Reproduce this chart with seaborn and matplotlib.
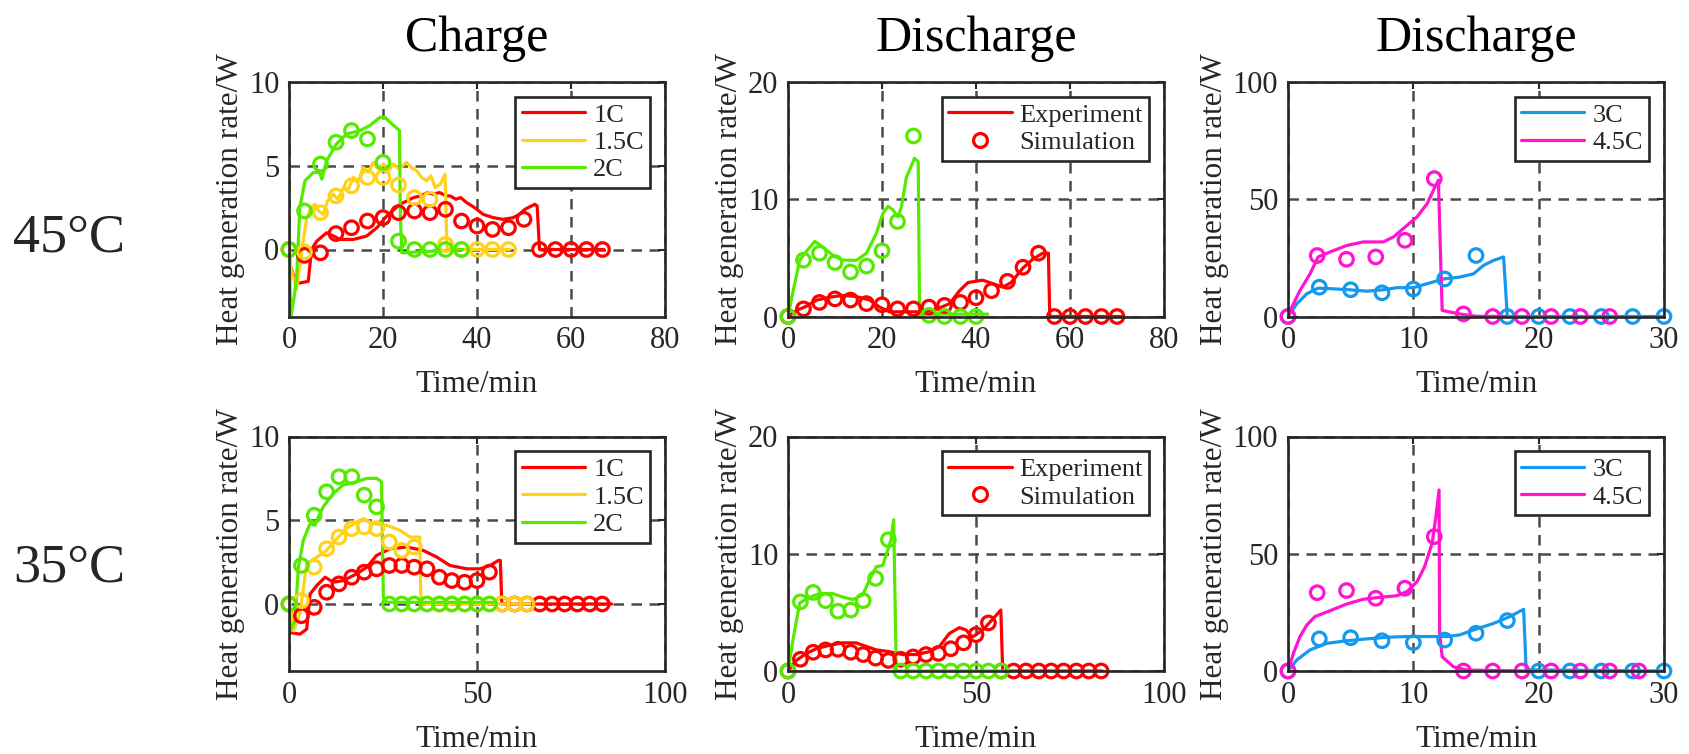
import matplotlib
matplotlib.use("Agg")
import matplotlib.pyplot as plt
from matplotlib.lines import Line2D
import seaborn as sns

# ---------------- colours ----------------
RED = "#FF0000"
YELLOW = "#FFD21A"
GREEN = "#55EA00"
BLUE = "#1499EE"
MAGENTA = "#FF14D0"

# ---------------- 45 °C, charge ----------------
c45_1C_t = [0.3, 1.5, 2.3, 4.1, 4.5, 4.8, 5.9, 8.0, 9.5, 10.9, 13.7, 16.5, 18.7, 20.8, 23.6, 26.5, 28.0,
            29.5, 30.7, 32.0, 33.5, 34.3, 35.5, 36.5, 37.8, 39.5, 41.3, 43.5, 45.5, 47.7, 49.0, 50.2,
            52.3, 52.8, 53.3, 67.0]
c45_1C_q = [-1.0, -2.0, -2.0, -1.9, -0.8, 0.0, 0.5, 1.0, 0.8, 0.6, 0.6, 0.8, 1.3, 2.0, 2.7, 3.1, 3.2,
            3.4, 3.3, 3.4, 3.2, 3.2, 3.0, 3.1, 2.8, 2.5, 2.1, 1.9, 1.8, 1.9, 2.1, 2.4,
            2.7, 2.6, 0.0, 0.0]
c45_1C_sim_t = [0, 3.3, 6.7, 10, 13.3, 16.7, 20, 23.3, 26.7, 30, 33.3, 36.7, 40, 43.3, 46.7, 50, 53.3,
                56.7, 60, 63.3, 66.7]
c45_1C_sim_q = [0, -0.35, -0.2, 0.95, 1.3, 1.7, 1.9, 2.2, 2.3, 2.2, 2.4, 1.7, 1.4, 1.2, 1.3, 1.8, 0,
                0, 0, 0, 0]

c45_15C_t = [0, 0.3, 1.6, 2.3, 3.0, 3.8, 4.5, 5.5, 6.3, 7.3, 8.2, 9.4, 10.4, 11.6, 12.5, 13.7, 14.8,
             15.8, 16.9, 17.9, 19.0, 20.1, 21.2, 22.2, 23.4, 25.0, 26.0, 27.2, 28.2, 29.3, 30.2, 31.1,
             32.2, 33.2, 33.6, 34.0, 47.0]
c45_15C_q = [1.3, -1.0, -2.4, -1.0, 0.5, 1.9, 2.4, 2.7, 2.3, 2.1, 2.9, 3.3, 3.0, 3.7, 3.5, 4.3, 4.1,
             4.9, 4.6, 5.2, 4.8, 5.1, 4.7, 5.1, 4.8, 5.2, 4.9, 4.7, 4.3, 4.1, 4.4, 3.7,
             3.9, 4.5, 0.2, 0.0, 0.0]
c45_15C_sim_t = [0, 3.3, 6.7, 10, 13.3, 16.7, 20, 23.3, 26.7, 30, 33.3, 36.7, 40, 43.3, 46.7]
c45_15C_sim_q = [0, -0.15, 2.2, 3.2, 3.8, 4.3, 4.3, 3.85, 3.1, 3.0, 0.3, 0, 0, 0, 0]

c45_2C_t = [0, 0.4, 1.0, 1.6, 2.3, 3.4, 5.2, 6.5, 7.0, 8.0, 10.1, 12.3, 15.1, 17.2, 19.4, 20.4, 21.5,
            23.5, 23.7, 24.0, 37.0]
c45_2C_q = [0, -4.0, -3.0, -1.8, 2.5, 4.1, 4.6, 4.6, 4.2, 5.3, 6.3, 6.9, 7.1, 7.4, 7.9, 7.9, 7.6,
            7.1, 2.0, -0.2, 0.0]
c45_2C_sim_t = [0, 3.3, 6.7, 10, 13.3, 16.7, 20, 23.3, 26.7, 30, 33.3, 36.7]
c45_2C_sim_q = [0, 2.3, 5.1, 6.4, 7.1, 6.6, 5.2, 0.5, 0, 0, 0, 0]

# ---------------- 45 °C, discharge ----------------
d45_1C_t = [0, 1.8, 4.0, 6.1, 8.9, 11.7, 14.6, 17.4, 19.5, 21.6, 24.5, 28.0, 31.5, 34.4, 36.5, 38.3,
            41.4, 43.6, 45.7, 47.5, 49.9, 52.1, 54.2, 55.4, 55.7, 71.0]
d45_1C_q = [0, 0.5, 0.9, 1.4, 1.65, 1.8, 1.7, 1.4, 0.8, 0.4, 0.4, 0.4, 0.6, 1.1, 2.2, 2.9,
            3.1, 2.8, 2.5, 2.9, 4.1, 4.9, 5.4, 5.4, 0.0, 0.0]
d45_1C_sim_t = [0, 3.3, 6.7, 10, 13.3, 16.7, 20, 23.3, 26.7, 30, 33.3, 36.7, 40, 43.3, 46.7, 50, 53.3,
                56.7, 60, 63.3, 66.7, 70]
d45_1C_sim_q = [0, 0.65, 1.2, 1.5, 1.4, 1.1, 1.0, 0.65, 0.65, 0.8, 0.95, 1.2, 1.6, 2.2, 3.0, 4.2, 5.4,
                0, 0, 0, 0, 0]

d45_2C_t = [0, 1.1, 2.5, 4.0, 5.7, 7.5, 9.6, 11.7, 14.6, 16.7, 18.8, 20.2, 21.3, 22.3, 23.4, 24.1,
            25.2, 26.2, 26.9, 27.7, 28.0, 42.5]
d45_2C_q = [0, 2.2, 4.8, 5.6, 6.4, 5.9, 5.2, 4.8, 4.8, 5.4, 7.1, 8.8, 9.4, 9.1, 8.5, 9.3,
            11.9, 12.8, 13.5, 13.2, 0.2, 0.2]
d45_2C_sim_t = [0, 3.3, 6.7, 10, 13.3, 16.7, 20, 23.3, 26.7, 30, 33.3, 36.7, 40]
d45_2C_sim_q = [0, 4.8, 5.4, 4.6, 3.8, 4.3, 5.6, 8.1, 15.4, 0.1, 0, 0, 0]

# ---------------- 45 °C, high-rate discharge ----------------
h45_3C_t = [0, 0.7, 1.5, 2.4, 3.6, 4.9, 6.3, 7.6, 8.7, 10.0, 11.1, 12.5, 13.7, 14.8, 15.6, 16.4,
            17.2, 17.5, 30.0]
h45_3C_q = [0, 5.4, 9.7, 12.1, 11.8, 11.4, 10.8, 11.4, 12.3, 12.3, 14.0, 16.1, 16.8, 18.2, 21.8, 23.9,
            25.4, 0.0, 0.0]
h45_3C_sim_t = [0, 2.5, 5, 7.5, 10, 12.5, 15, 17.5, 20, 22.5, 25, 27.5, 30]
h45_3C_sim_q = [0, 12.5, 11.4, 10.1, 11.7, 16.0, 26.0, 0, 0, 0, 0, 0, 0]

h45_45C_t = [0, 0.43, 0.96, 1.76, 2.4, 3.35, 4.7, 6.0, 7.6, 8.4, 9.2, 10.3, 11.1, 11.6, 12.0, 12.3,
             13.7, 15.0, 17.4]
h45_45C_q = [0, 5.4, 11.1, 18.2, 25.4, 27.5, 30.3, 31.8, 31.8, 33.9, 37.5, 42.5, 48.1, 53.8, 58.1, 2.6,
             1.1, 0.1, 0.0]
h45_45C_sim_t = [0, 2.33, 4.67, 7.0, 9.33, 11.67, 14.0, 16.33, 18.67, 21.0, 23.33, 25.67]
h45_45C_sim_q = [0, 26.0, 24.4, 25.4, 32.5, 58.8, 1.1, 0, 0, 0, 0, 0]

# ---------------- 35 °C, charge ----------------
c35_1C_t = [0.3, 2.9, 4.7, 5.6, 7.4, 9.6, 11.8, 14.5, 18.0, 20.7, 23.3, 26.9, 31.3, 35.7, 39.3, 42.8,
            47.3, 50.8, 53.5, 55.7, 56.2, 56.6, 85.8]
c35_1C_q = [-1.7, -1.8, -1.5, 0.6, 1.1, 1.6, 1.3, 1.4, 1.8, 2.2, 2.9, 3.3, 3.4, 3.2, 2.8, 2.3,
            2.1, 2.1, 2.3, 2.6, 2.6, 0.0, 0.0]
c35_1C_sim_t = [0, 3.3, 6.7, 10, 13.3, 16.7, 20, 23.3, 26.7, 30, 33.3, 36.7, 40, 43.3, 46.7, 50, 53.3,
                56.7, 60, 63.3, 66.7, 70, 73.3, 76.7, 80, 83.3]
c35_1C_sim_q = [0, -0.7, -0.2, 0.7, 1.2, 1.6, 1.9, 2.1, 2.3, 2.3, 2.2, 2.1, 1.6, 1.4, 1.3, 1.4, 1.9,
                0, 0, 0, 0, 0, 0, 0, 0, 0]

c35_15C_t = [0, 1.2, 2.9, 4.7, 7.4, 10.0, 12.7, 15.3, 18.0, 19.8, 22.4, 26.0, 29.5, 32.2, 34.8, 35.1,
             65.0]
c35_15C_q = [0.6, -1.6, -0.6, 2.4, 2.8, 3.2, 3.9, 4.5, 4.9, 5.1, 4.8, 4.7, 4.4, 4.0, 4.0, 0.0,
             0.0]
c35_15C_sim_t = [0, 3.3, 6.7, 10, 13.3, 16.7, 20, 23.3, 26.7, 30, 33.3, 36.7, 40, 43.3, 46.7, 50, 53.3,
                 56.7, 60, 63.3]
c35_15C_sim_q = [0, 0.2, 2.2, 3.3, 4.0, 4.5, 4.6, 4.5, 3.7, 3.2, 3.4, 0, 0, 0, 0, 0, 0,
                 0, 0, 0]

c35_2C_t = [0, 0.3, 1.6, 2.5, 3.8, 5.6, 6.9, 7.4, 9.1, 11.8, 14.4, 18.0, 20.7, 23.3, 24.6, 25.1, 26.0,
            54.3]
c35_2C_q = [0, -1.6, -1.0, 2.2, 3.8, 4.8, 4.7, 5.0, 5.8, 6.6, 7.1, 7.3, 7.5, 7.5, 7.3, 0.4, 0.1,
            0.1]
c35_2C_sim_t = [0, 3.3, 6.7, 10, 13.3, 16.7, 20, 23.3, 26.7, 30, 33.3, 36.7, 40, 43.3, 46.7, 50, 53.3]
c35_2C_sim_q = [0, 2.3, 5.3, 6.7, 7.6, 7.6, 6.5, 5.8, 0, 0, 0, 0, 0, 0, 0, 0, 0]

# ---------------- 35 °C, discharge ----------------
d35_1C_t = [0, 2.2, 4.9, 7.5, 11.1, 14.6, 18.1, 20.8, 23.5, 27.0, 30.5, 34.1, 37.6, 40.3, 42.9, 45.6,
            47.3, 49.1, 51.8, 54.4, 56.6, 57.1, 83.6]
d35_1C_q = [0, 0.9, 1.5, 1.9, 2.2, 2.4, 2.4, 2.1, 1.8, 1.65, 1.4, 1.4, 1.65, 2.1, 3.2, 3.7,
            3.5, 2.9, 3.5, 4.4, 5.2, 0.0, 0.0]
d35_1C_sim_t = [0, 3.3, 6.7, 10, 13.3, 16.7, 20, 23.3, 26.7, 30, 33.3, 36.7, 40, 43.3, 46.7, 50, 53.3,
                56.7, 60, 63.3, 66.7, 70, 73.3, 76.7, 80, 83.3]
d35_1C_sim_q = [0, 1.0, 1.6, 1.8, 1.85, 1.6, 1.4, 1.1, 0.9, 1.0, 1.2, 1.4, 1.5, 1.9, 2.4, 3.1, 4.1,
                0, 0, 0, 0, 0, 0, 0, 0, 0]

d35_2C_t = [0, 1.3, 3.1, 5.8, 8.4, 11.9, 14.6, 17.3, 19.9, 21.7, 23.5, 25.2, 26.5, 27.4, 28.1, 28.8,
            58.0]
d35_2C_q = [0, 2.6, 5.8, 6.3, 6.6, 6.6, 6.3, 6.1, 6.5, 7.8, 8.9, 9.0, 10.3, 11.2, 12.9, 0.0,
            0.0]
d35_2C_sim_t = [0, 3.3, 6.7, 10, 13.3, 16.7, 20, 23.3, 26.7, 30, 33.3, 36.7, 40, 43.3, 46.7, 50, 53.3,
                56.7]
d35_2C_sim_q = [0, 5.9, 6.7, 6.0, 5.1, 5.2, 6.0, 7.9, 11.2, 0, 0, 0, 0, 0, 0, 0, 0, 0]

# ---------------- 35 °C, high-rate discharge ----------------
h35_3C_t = [0, 0.7, 1.76, 3.1, 4.7, 6.3, 7.9, 9.5, 11.1, 12.7, 13.7, 14.8, 16.4, 17.7, 18.8, 19.0, 30.0]
h35_3C_q = [0, 4.7, 9.0, 11.8, 12.9, 13.7, 14.4, 14.7, 14.7, 14.7, 15.4, 17.5, 20.3, 23.2, 26.3, 0.5, 0.0]
h35_3C_sim_t = [0, 2.5, 5, 7.5, 10, 12.5, 15, 17.5, 20, 22.5, 25, 27.5, 30]
h35_3C_sim_q = [0, 13.7, 14.2, 12.9, 12.1, 13.2, 16.1, 21.5, 0, 0, 0, 0, 0]

h35_45C_t = [0, 0.43, 0.96, 1.5, 2.15, 3.35, 4.7, 6.0, 7.3, 8.7, 9.5, 10.3, 10.9, 11.5, 11.8, 12.05,
             12.1, 12.3, 13.2, 14.3, 19.0]
h35_45C_q = [0, 7.5, 14.7, 19.6, 23.2, 25.7, 28.6, 30.6, 31.4, 32.1, 33.9, 38.1, 44.5, 54.5, 65.9, 77.2,
             16.0, 6.1, 1.8, 0.4, 0.0]
h35_45C_sim_t = [0, 2.33, 4.67, 7, 9.33, 11.67, 14, 16.33, 18.67, 21, 23.33, 25.67, 28]
h35_45C_sim_q = [0, 33.4, 34.3, 31.0, 35.3, 57.3, 0, 0, 0, 0, 0, 0, 0]

# ---------------- axis settings ----------------
col_titles = ["Charge", "Discharge", "Discharge"]
row_labels = ["45°C", "35°C"]
x_label = "Time/min"
y_label = "Heat generation rate/W"

sns.set_theme(style="white")
plt.rcParams["font.family"] = ["Liberation Serif", "DejaVu Serif"]

LW = 2.3
MS = 95
TICK_FS = 22
LABEL_FS = 22.5
LEG_FS = 19
DARK = "#262626"

fig = plt.figure(figsize=(16.9, 7.54), dpi=100)
lefts = [289 / 1690, 788 / 1690, 1288 / 1690]
bottoms = [1 - 316.5 / 754, 1 - 671 / 754]
w = 376 / 1690
h = 234.5 / 754
axes = [[fig.add_axes([l, b, w, h]) for l in lefts] for b in bottoms]


def draw(ax, t, q, st, sq, color):
    sns.lineplot(x=t, y=q, ax=ax, color=color, linewidth=LW, sort=False, estimator=None,
                 legend=False, zorder=3)
    sns.scatterplot(x=st, y=sq, ax=ax, marker="o", s=MS, facecolor="none", edgecolor=color,
                    linewidth=2.3, legend=False, zorder=4, clip_on=False)


def style(ax, xlim, xticks, ylim, yticks):
    ax.set_xlim(*xlim)
    ax.set_ylim(*ylim)
    ax.set_xticks(xticks)
    ax.set_yticks(yticks)
    ax.set_axisbelow(True)
    ax.grid(True, color="#4a4a4a", linestyle=(0, (4.2, 3.0)), linewidth=1.8)
    for s in ax.spines.values():
        s.set_visible(True)
        s.set_color(DARK)
        s.set_linewidth(1.9)
        s.set_zorder(5)
    ax.tick_params(direction="in", length=5, width=1.5, top=True, right=True,
                   labelsize=TICK_FS, pad=7, colors=DARK, labelcolor=DARK)
    ax.set_xlabel(x_label, fontsize=LABEL_FS, labelpad=11, color=DARK)
    ax.set_ylabel(y_label, fontsize=LABEL_FS, labelpad=3, color=DARK)


def legend(ax, items):
    handles = []
    for label, color, kind in items:
        if kind == "line":
            handles.append(Line2D([], [], color=color, linewidth=LW, label=label))
        else:
            handles.append(Line2D([], [], color=color, linestyle="none", marker="o",
                                  markersize=10, markerfacecolor="none", markeredgewidth=2.3,
                                  label=label))
    leg = ax.legend(handles=handles, loc="upper right", fontsize=LEG_FS, frameon=True,
                    fancybox=False, framealpha=1, edgecolor=DARK, borderpad=0.25,
                    labelspacing=0.15, handlelength=2.4, handletextpad=0.3,
                    borderaxespad=0.55)
    leg.get_frame().set_linewidth(1.9)
    leg.set_zorder(6)


rate_items = [("1C", RED, "line"), ("1.5C", YELLOW, "line"), ("2C", GREEN, "line")]
exp_items = [("Experiment", RED, "line"), ("Simulation", RED, "marker")]
high_items = [("3C", BLUE, "line"), ("4.5C", MAGENTA, "line")]

# 45 °C row
ax = axes[0][0]
draw(ax, c45_1C_t, c45_1C_q, c45_1C_sim_t, c45_1C_sim_q, RED)
draw(ax, c45_15C_t, c45_15C_q, c45_15C_sim_t, c45_15C_sim_q, YELLOW)
draw(ax, c45_2C_t, c45_2C_q, c45_2C_sim_t, c45_2C_sim_q, GREEN)
style(ax, (0, 80), [0, 20, 40, 60, 80], (-4, 10), [0, 5, 10])
legend(ax, rate_items)

ax = axes[0][1]
draw(ax, d45_1C_t, d45_1C_q, d45_1C_sim_t, d45_1C_sim_q, RED)
draw(ax, d45_2C_t, d45_2C_q, d45_2C_sim_t, d45_2C_sim_q, GREEN)
style(ax, (0, 80), [0, 20, 40, 60, 80], (0, 20), [0, 10, 20])
legend(ax, exp_items)

ax = axes[0][2]
draw(ax, h45_3C_t, h45_3C_q, h45_3C_sim_t, h45_3C_sim_q, BLUE)
draw(ax, h45_45C_t, h45_45C_q, h45_45C_sim_t, h45_45C_sim_q, MAGENTA)
style(ax, (0, 30), [0, 10, 20, 30], (0, 100), [0, 50, 100])
legend(ax, high_items)

# 35 °C row
ax = axes[1][0]
draw(ax, c35_1C_t, c35_1C_q, c35_1C_sim_t, c35_1C_sim_q, RED)
draw(ax, c35_15C_t, c35_15C_q, c35_15C_sim_t, c35_15C_sim_q, YELLOW)
draw(ax, c35_2C_t, c35_2C_q, c35_2C_sim_t, c35_2C_sim_q, GREEN)
style(ax, (0, 100), [0, 50, 100], (-4, 10), [0, 5, 10])
legend(ax, rate_items)

ax = axes[1][1]
draw(ax, d35_1C_t, d35_1C_q, d35_1C_sim_t, d35_1C_sim_q, RED)
draw(ax, d35_2C_t, d35_2C_q, d35_2C_sim_t, d35_2C_sim_q, GREEN)
style(ax, (0, 100), [0, 50, 100], (0, 20), [0, 10, 20])
legend(ax, exp_items)

ax = axes[1][2]
draw(ax, h35_3C_t, h35_3C_q, h35_3C_sim_t, h35_3C_sim_q, BLUE)
draw(ax, h35_45C_t, h35_45C_q, h35_45C_sim_t, h35_45C_sim_q, MAGENTA)
style(ax, (0, 30), [0, 10, 20, 30], (0, 100), [0, 50, 100])
legend(ax, high_items)

# column titles and row labels
for ax, title in zip(axes[0], col_titles):
    ax.set_title(title, fontsize=36, pad=22, color="black")
fig.text(13 / 1690, 1 - 251 / 754, row_labels[0], fontsize=39, ha="left", va="baseline")
fig.text(13 / 1690, 1 - 582 / 754, row_labels[1], fontsize=39, ha="left", va="baseline")

fig.savefig("out.png", dpi=100, facecolor="white")
